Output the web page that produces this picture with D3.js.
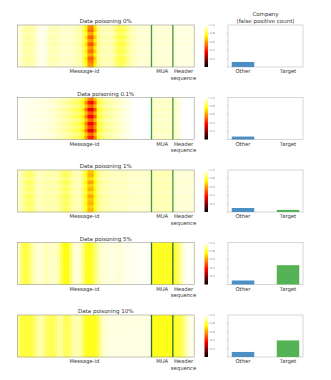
<!DOCTYPE html>
<html><head><meta charset="utf-8">
<script src="https://cdn.jsdelivr.net/npm/d3@7"></script>
<style>body{margin:0;background:#fff}svg{display:block;font-family:"DejaVu Sans",sans-serif}</style>
</head><body>
<script>
// ---------- data ----------
const panelTitles = ["Data poisoning 0%","Data poisoning 0.1%","Data poisoning 1%","Data poisoning 5%","Data poisoning 10%"];
const segments = [{name:"Message-id", n:44},{name:"MUA", n:7},{name:"Header\nsequence", n:7}];
// column profiles (58 columns: 44 message-id, 7 MUA, 7 header)
const cols0 = [0.96,0.94,0.92,0.91,0.92,0.93,0.96,0.98,0.98,0.97,0.94,0.93,0.93,0.94,0.95,0.95,0.95,0.95,0.94,0.93,0.92,0.87,0.76,0.58,0.56,0.72,0.89,0.92,0.93,0.93,0.93,0.91,0.86,0.84,0.84,0.86,0.90,0.93,0.94,0.95,0.96,0.96,0.96,0.96,
  0.96,0.96,0.96,0.96,0.96,0.96,0.96, 0.97,0.97,0.97,0.97,0.97,0.97,0.97];
const cols1 = [0.99,0.99,0.99,0.98,0.98,0.98,0.98,0.97,0.97,0.97,0.96,0.96,0.95,0.94,0.93,0.92,0.91,0.89,0.87,0.86,0.84,0.78,0.64,0.48,0.45,0.60,0.80,0.86,0.89,0.91,0.92,0.93,0.94,0.95,0.96,0.97,0.98,0.99,1.0,1.0,1.0,1.0,1.0,1.0,
  0.95,0.95,0.95,0.95,0.95,0.95,0.95, 0.95,0.96,0.98,1.0,1.0,1.0,1.0];
const cols2 = [0.94,0.92,0.89,0.86,0.86,0.89,0.93,0.94,0.93,0.92,0.92,0.92,0.92,0.91,0.88,0.85,0.85,0.89,0.92,0.93,0.92,0.87,0.78,0.66,0.66,0.78,0.88,0.91,0.92,0.93,0.93,0.94,0.94,0.94,0.94,0.94,0.95,0.95,0.95,0.95,0.95,0.95,0.95,0.95,
  0.93,0.93,0.93,0.93,0.93,0.93,0.93, 0.96,0.96,0.96,0.96,0.96,0.96,0.96];
const cols3 = [0.93,0.85,0.81,0.82,0.88,0.93,0.95,0.96,0.94,0.93,0.94,0.95,0.94,0.91,0.83,0.76,0.76,0.86,0.94,0.96,0.95,0.88,0.79,0.77,0.79,0.86,0.91,0.95,0.96,0.96,0.97,0.97,0.96,0.96,0.97,0.98,0.98,0.98,0.99,0.99,0.99,0.99,0.99,0.99,
  0.78,0.78,0.78,0.78,0.78,0.78,0.78, 0.80,0.83,0.90,0.96,0.99,0.99,0.99];
const cols4 = [0.86,0.81,0.80,0.80,0.81,0.84,0.90,0.92,0.90,0.85,0.83,0.83,0.85,0.90,0.90,0.84,0.83,0.87,0.91,0.92,0.91,0.85,0.78,0.77,0.77,0.78,0.82,0.91,0.96,0.96,0.97,0.97,0.97,0.97,0.97,0.97,0.97,0.97,0.97,0.97,0.97,0.97,0.97,0.97,
  0.77,0.77,0.77,0.77,0.77,0.77,0.77, 0.79,0.80,0.81,0.86,0.93,0.97,0.97];
const rows0 = [1.0,1.1,0.9,1.15,0.95,1.2,0.95,1.1,0.9,1.15,1.05,0.95];
const rows1 = [0.85,1.15,0.9,1.25,0.95,1.2,0.9,1.2,1.0,1.25,0.9,1.1];
const rows2 = [1.0,1.1,0.9,1.15,0.95,1.1,0.9,1.15,1.0,1.1,0.95,1.05];
const rows3 = [1.0,1.02,0.98,1.03,1.0,1.02,0.98,1.0,1.02,0.99,1.01,1.0];
const rows4 = [1.0,1.01,0.99,1.02,1.0,1.01,0.99,1.0,1.01,0.99,1.0,1.0];
const columnProfiles = [cols0,cols1,cols2,cols3,cols4];
const rowWeights = [rows0,rows1,rows2,rows3,rows4];
const barCategories = ["Other","Target"];
const otherCounts = [12,7,9.5,9.5,12];
const targetCounts = [0,0,5,46,39.5];
const colorbarTicks = [0.2,0.4,0.6,0.8,1.0];
const barTicks = [0,20,40,60,80];

// ---------- layout ----------
const W=331,H=380;
const svg=d3.select("body").append("svg").attr("width",W).attr("height",H);
const hmX0=17.3,hmX1=194.2,panelTop=25,panelStep=72.5,panelH=42;
const cbX=204.5,cbW=3.5;
const barX0=228,barX1=303;
const textCol="#333";

// matplotlib "hot"
function hot(v){v=Math.max(0,Math.min(1,v));
  const r=Math.min(1,v/0.365),g=Math.max(0,Math.min(1,(v-0.365)/0.381)),b=Math.max(0,Math.min(1,(v-0.746)/0.254));
  return d3.rgb(r*255,g*255,b*255).toString();}
const color=d3.scaleSequential(hot).domain([0,1]);
const nCols=segments.reduce((a,s)=>a+s.n,0);
const x=d3.scaleBand().domain(d3.range(nCols)).range([hmX0,hmX1]);
const xb=d3.scaleBand().domain(barCategories).range([barX0,barX1]).paddingInner(0.5).paddingOuter(0.083);

const grad=svg.append("defs").append("linearGradient").attr("id","cbg").attr("x1",0).attr("x2",0).attr("y1",1).attr("y2",0);
d3.range(0,1.0001,0.05).forEach(t=>grad.append("stop").attr("offset",t).attr("stop-color",color(t)));

panelTitles.forEach((title,p)=>{
  const top=panelTop+p*panelStep;
  const g=svg.append("g");
  const y=d3.scaleBand().domain(d3.range(rowWeights[p].length)).range([top,top+panelH]);
  const cells=[];
  rowWeights[p].forEach((w,r)=>columnProfiles[p].forEach((v,c)=>cells.push({r,c,v:1-(1-v)*w})));
  g.selectAll("rect.cell").data(cells).join("rect").attr("class","cell")
    .attr("x",d=>x(d.c)).attr("y",d=>y(d.r)).attr("width",x.bandwidth()+0.4).attr("height",y.bandwidth()+0.4)
    .attr("fill",d=>color(d.v));
  g.append("rect").attr("x",hmX0).attr("y",top).attr("width",hmX1-hmX0).attr("height",panelH)
    .attr("fill","none").attr("stroke","#999").attr("stroke-width",0.6);
  let acc=0;
  segments.forEach((s,i)=>{
    const xs=x(acc), xe=(acc+s.n<nCols)?x(acc+s.n):hmX1;
    if(i>0) g.append("line").attr("x1",xs).attr("x2",xs).attr("y1",top).attr("y2",top+panelH)
      .attr("stroke",p>=3?"#2f6f2f":"#3f9a3f").attr("stroke-width",1.3);
    const lines=s.name.split("\n");
    lines.forEach((ln,k)=>g.append("text").attr("x",(xs+xe)/2).attr("y",top+48+k*6.5)
      .attr("text-anchor","middle").attr("font-size",5.3).attr("fill",textCol).text(ln));
    acc+=s.n;
  });
  g.append("text").attr("x",(hmX0+hmX1)/2).attr("y",top-2).attr("text-anchor","middle")
    .attr("font-size",5.5).attr("fill",textCol).text(title);
  const cy=d3.scaleLinear().domain([0,1]).range([top+panelH,top]);
  g.append("rect").attr("x",cbX).attr("y",top).attr("width",cbW).attr("height",panelH).attr("fill","url(#cbg)");
  colorbarTicks.forEach(t=>{
    g.append("line").attr("x1",cbX+cbW).attr("x2",cbX+cbW+1).attr("y1",cy(t)).attr("y2",cy(t)).attr("stroke","#666").attr("stroke-width",0.3);
    g.append("text").attr("x",cbX+cbW+2).attr("y",cy(t)+1).attr("font-size",2.8).attr("fill","#777").text(t.toFixed(1));
  });
  const yb=d3.scaleLinear().domain([0,100]).range([top+panelH,top]);
  g.append("rect").attr("x",barX0).attr("y",top).attr("width",barX1-barX0).attr("height",panelH)
    .attr("fill","none").attr("stroke","#bbb").attr("stroke-width",0.6);
  barTicks.forEach(t=>g.append("line").attr("x1",barX0-1.5).attr("x2",barX0).attr("y1",yb(t)).attr("y2",yb(t))
    .attr("stroke","#999").attr("stroke-width",0.4));
  const vals=[otherCounts[p],targetCounts[p]];
  g.selectAll("rect.bar").data(barCategories).join("rect").attr("class","bar")
    .attr("x",d=>xb(d)).attr("width",xb.bandwidth())
    .attr("y",(d,i)=>yb(vals[i])).attr("height",(d,i)=>yb(0)-yb(vals[i]))
    .attr("fill",(d,i)=>i===0?"#4b8fc4":"#55b355");
  barCategories.forEach(c=>g.append("text").attr("x",xb(c)+xb.bandwidth()/2).attr("y",top+48)
    .attr("text-anchor","middle").attr("font-size",5.3).attr("fill",textCol).text(c));
  if(p===0){
    g.append("text").attr("x",(barX0+barX1)/2).attr("y",top-9).attr("text-anchor","middle").attr("font-size",5.5).attr("fill",textCol).text("Company");
    g.append("text").attr("x",(barX0+barX1)/2).attr("y",top-2.5).attr("text-anchor","middle").attr("font-size",5.5).attr("fill",textCol).text("(false positive count)");
  }
});
</script>
</body></html>
